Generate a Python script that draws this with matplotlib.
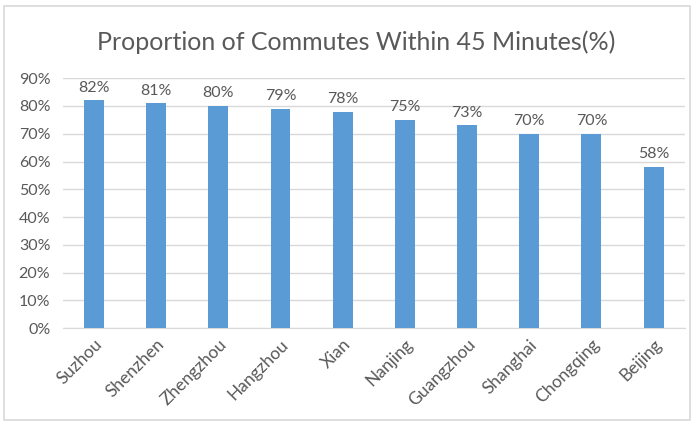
import matplotlib.pyplot as plt
from matplotlib.patches import Rectangle
from matplotlib.ticker import PercentFormatter

# Data
cities = ["Suzhou", "Shenzhen", "Zhengzhou", "Hangzhou", "Xian",
          "Nanjing", "Guangzhou", "Shanghai", "Chongqing", "Beijing"]
shares = [82, 81, 80, 79, 78, 75, 73, 70, 70, 58]

text_color = "#595959"
plt.rcParams["font.family"] = ["Lato", "DejaVu Sans"]

fig = plt.figure(figsize=(6.98, 4.25), dpi=100)
ax = fig.add_axes([0.090, 0.228, 0.891, 0.588])

x = range(len(cities))
ax.bar(x, shares, width=0.32, color="#5B9BD5", zorder=3)

# value labels above each bar
for i, v in zip(x, shares):
    ax.text(i, v + 2, f"{v}%", ha="center", va="bottom",
            fontsize=11.5, color=text_color)

ax.set_xlim(-0.5, len(cities) - 0.5)
ax.set_ylim(0, 90)
ax.set_yticks(range(0, 91, 10))
ax.yaxis.set_major_formatter(PercentFormatter(decimals=0))
ax.grid(axis="y", color="#D9D9D9", linewidth=1, zorder=0)

ax.set_xticks(list(x))
ax.set_xticklabels(cities, rotation=45, ha="right", rotation_mode="anchor")
ax.tick_params(axis="both", length=0, colors=text_color)
ax.tick_params(axis="y", pad=9, labelsize=11.5)
ax.tick_params(axis="x", pad=6, labelsize=12.5)

for side in ["top", "right", "left"]:
    ax.spines[side].set_visible(False)
ax.spines["bottom"].set_color("#D9D9D9")

fig.text(0.51, 0.90, "Proportion of Commutes Within 45 Minutes(%)",
         ha="center", va="center", fontsize=18, color=text_color)

# light frame around the whole chart
fig.patches.append(Rectangle((0.006, 0.012), 0.982, 0.973, transform=fig.transFigure,
                             fill=False, edgecolor="#D9D9D9", linewidth=1.2))

fig.savefig("out.png", dpi=100)
